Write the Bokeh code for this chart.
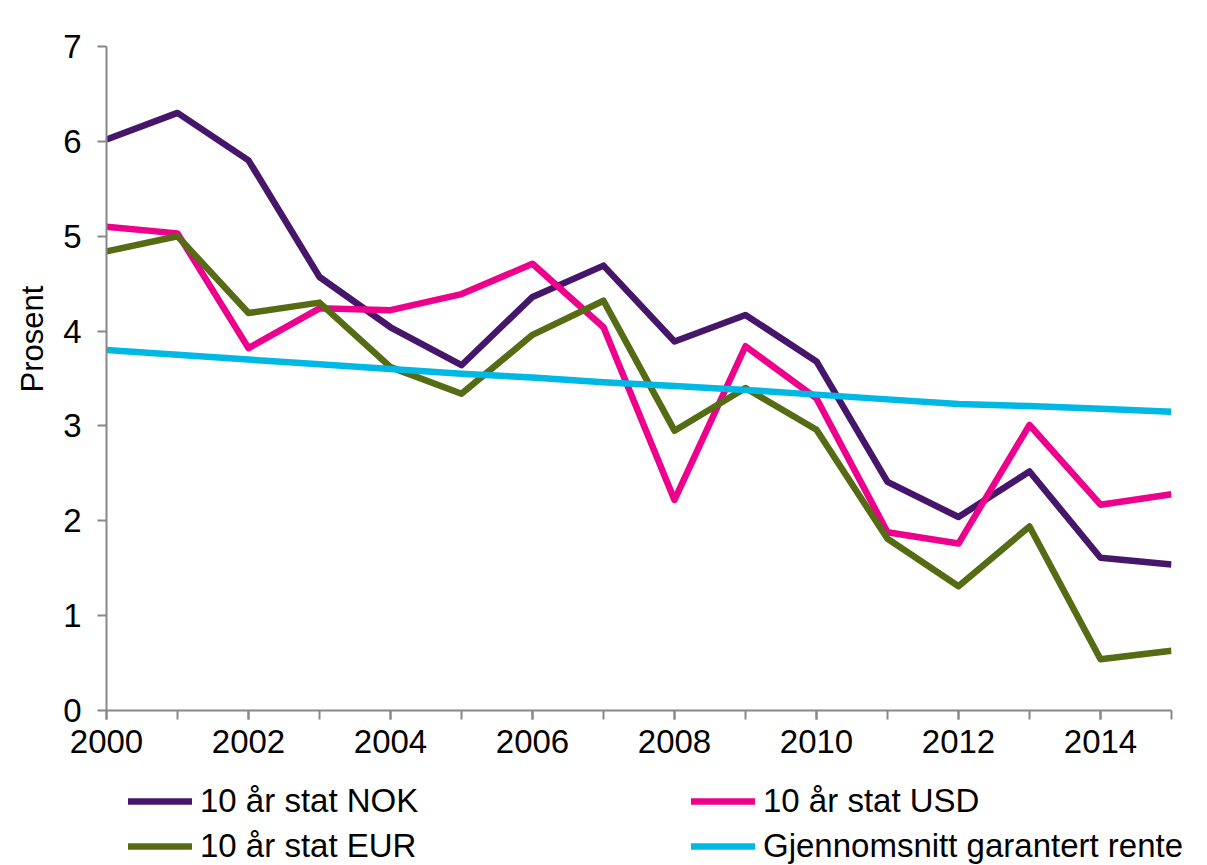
from bokeh.plotting import figure
from bokeh.models import Range1d, FixedTicker, Legend, LegendItem, Title
from bokeh.layouts import column
from bokeh.embed import file_html
from bokeh.resources import INLINE

years = list(range(2000, 2016))
nok = [6.02, 6.30, 5.80, 4.57, 4.04, 3.64, 4.36, 4.69, 3.89, 4.17, 3.68, 2.41, 2.04, 2.52, 1.61, 1.54]
usd = [5.10, 5.03, 3.82, 4.24, 4.22, 4.39, 4.71, 4.04, 2.22, 3.84, 3.29, 1.88, 1.76, 3.01, 2.17, 2.28]
eur = [4.84, 5.00, 4.19, 4.30, 3.62, 3.34, 3.96, 4.32, 2.95, 3.40, 2.96, 1.81, 1.31, 1.94, 0.54, 0.63]
gar = [3.80, 3.75, 3.70, 3.65, 3.60, 3.55, 3.51, 3.46, 3.42, 3.38, 3.33, 3.28, 3.23, 3.21, 3.18, 3.15]

series_labels = ["10 år stat NOK", "10 år stat USD", "10 år stat EUR", "Gjennomsnitt garantert rente"]
series_colors = ["#46166B", "#EC008C", "#556B14", "#00B8E4"]
x_tick_labels = [2000, 2002, 2004, 2006, 2008, 2010, 2012, 2014]
y_ticks = [0, 1, 2, 3, 4, 5, 6, 7]

FONT = "Liberation Sans"
LINE_W = 6.5

p = figure(width=1200, height=770, output_backend="svg", toolbar_location=None,
           x_range=Range1d(2000, 2015), y_range=Range1d(0, 7),
           min_border_left=106, min_border_right=29, min_border_top=46, min_border_bottom=60)
p.outline_line_color = None
p.xgrid.visible = False
p.ygrid.visible = False
p.background_fill_color = "white"
p.border_fill_color = "white"

series = [nok, usd, eur, gar]
for data, color in zip(series, series_colors):
    p.line(years, data, line_color=color, line_width=LINE_W, line_join="round")

axis_color = "#888888"
xa = p.xaxis[0]
xa.ticker = FixedTicker(ticks=x_tick_labels, minor_ticks=years)
xa.axis_line_color = axis_color
xa.axis_line_width = 2
xa.major_tick_line_color = axis_color
xa.major_tick_line_width = 2
xa.minor_tick_line_color = axis_color
xa.minor_tick_line_width = 2
xa.major_tick_in = 0
xa.major_tick_out = 9
xa.minor_tick_in = 0
xa.minor_tick_out = 9
xa.major_label_text_font = FONT
xa.major_label_text_font_size = "33px"
xa.major_label_text_color = "black"
xa.major_label_standoff = 10

ya = p.yaxis[0]
ya.ticker = FixedTicker(ticks=y_ticks)
ya.axis_line_color = axis_color
ya.axis_line_width = 2
ya.major_tick_line_color = axis_color
ya.major_tick_line_width = 2
ya.major_tick_in = 0
ya.major_tick_out = 9
ya.minor_tick_line_color = None
ya.major_label_text_font = FONT
ya.major_label_text_font_size = "33px"
ya.major_label_text_color = "black"
ya.major_label_standoff = 16

ylab = Title(text="Prosent", align="left", offset=318, vertical_align="middle",
             text_font=FONT, text_font_size="31px", text_font_style="normal",
             text_color="black", standoff=19)
p.add_layout(ylab, "left")

# legend panel below the chart
LEG_H = 95
p2 = figure(width=1200, height=LEG_H, output_backend="svg", toolbar_location=None,
            x_range=Range1d(0, 1200), y_range=Range1d(0, LEG_H),
            x_axis_type=None, y_axis_type=None,
            min_border_left=0, min_border_right=0, min_border_top=0, min_border_bottom=0)
p2.frame_align = False
p2.outline_line_color = None
p2.xgrid.visible = False
p2.ygrid.visible = False
p2.background_fill_color = "white"
p2.border_fill_color = "white"

# same series, outside this panel's visible range: only their legend swatches show
leg_renderers = [p2.line(years, data, line_color=c, line_width=LINE_W, line_cap="round")
                 for data, c in zip(series, series_colors)]
items = [LegendItem(label=lab, renderers=[r]) for lab, r in zip(series_labels, leg_renderers)]
leg = Legend(items=items, location=(128, 0), orientation="horizontal", ncols=2,
             padding=0, margin=0, spacing=7, glyph_width=64, glyph_height=20,
             label_standoff=8, label_width=484, label_text_font=FONT,
             label_text_font_size="33px", label_text_color="black",
             border_line_alpha=0, background_fill_alpha=0)
p2.add_layout(leg, "center")

layout = column(p, p2, spacing=0)
open("out.html", "w").write(file_html(layout, INLINE))
